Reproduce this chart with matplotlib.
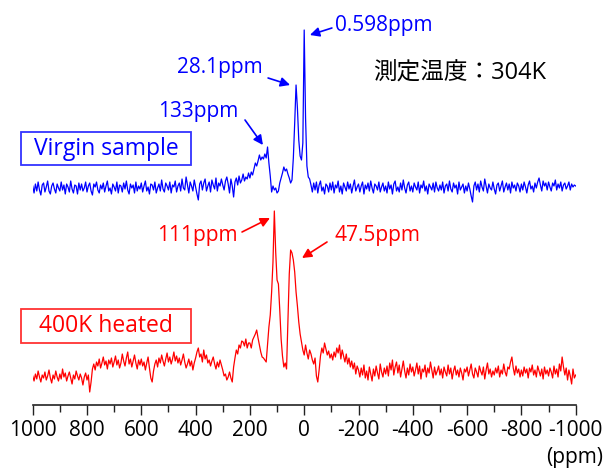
import matplotlib
matplotlib.use('Agg')
import matplotlib.pyplot as plt
from matplotlib.patches import Rectangle
import numpy as np

plt.rcParams['font.family'] = ['Open Sans', 'Noto Sans CJK JP', 'DejaVu Sans']

# chemical shift grid (ppm), 5 ppm steps from 1000 down to -1000
ppm = np.arange(1000, -1001, -5)

# virgin sample spectrum (arbitrary units above its baseline)
virgin = [
    2, -5, 4, -3, 6, -2, -7, 3, 5, -4, 1, 7, -3, -6, 2, 5, -1, -5, 4, 0,
    -3, 6, -2, 3, -6, 4, 1, -4, 7, -1, -5, 3, 2, -6, 5, -2, 4, -3, 0, 6,
    -4, 2, 5, -3, -7, 4, 1, 6, -2, -5, 3, -1, 5, -4, 2, 7, -3, 0, -6, 4,
    1, -3, 6, -5, 3, 2, -4, 5, -1, 7, -2, -6, 4, 0, 3, -5, 6, -3, 2, -1,
    5, -4, 2, 7, -3, 1, -6, 4, 3, -2, 6, -5, 0, 4, -3, 8, -1, -4, 5, 2,
    -2, 6, -5, 3, 1, 7, -4, 2, 5, -3, 9, 0, -2, 11, 3, -5, 6, 2, -3, 8,
    1, -6, -12, 4, 7, -2, 5, 9, -3, 2, 6, -4, 8, 3, -1, 10, -3, 5, 2, 9,
    3, -2, 7, 11, 4, -5, 9, 2, -9, 6, 10, 3, 12, 5, 8, 14, 7, 11, 9, 15,
    10, 16, 13, 19, 25, 22, 27, 33, 28, 31, 29, 34, 30, 41, 25, 12, -4, 2, -2, 0,
    -5, -3, 5, 10, 15, 21, 17, 19, 14, 10, 5, 8, 30, 65, 103, 80, 48, 32, 28, 45,
    158, 70, 22, 11, 9, 3, -4, 5, -2, 6, -5, 3, 7, -3, 1, -6, 4, 2, -4, 5,
    -2, 6, -5, 3, 0, 7, -4, 2, -6, 5, 1, -3, 6, -1, 4, -5, 2, 8, -3, 1,
    4, -4, 2, 6, -6, 3, -1, 5, -3, 7, 0, -5, 4, 2, -2, 6, -4, 1, 5, -3,
    2, -5, 6, -1, 3, -6, 4, 7, -3, 1, -4, 5, -2, 8, 0, -5, 3, 6, -3, 2,
    -4, 5, 1, -2, 6, -5, 3, 0, 7, -3, 2, -6, 4, 1, -2, 5, -4, 6, 0, -3,
    3, -2, 6, -5, 2, 4, -3, 7, -1, -4, 5, 0, 3, -6, 6, -2, 1, 4, -5, 2,
    -3, 5, -1, -8, -14, 2, 6, -2, 4, -4, 7, 1, -3, 9, 2, -5, 4, 0, -2, 6,
    -1, -6, 3, 5, -3, 2, 7, -4, 1, 5, -2, 4, -5, 6, 0, 3, -3, 5, 2, -4,
    4, -2, 6, 1, -5, 3, 7, -1, 2, -4, 5, 0, 6, 10, 3, -3, 7, 2, 5, -2,
    6, 1, -3, 5, 2, 8, -2, 4, 0, 6, -3, 3, 5, -1, 2, 6, -2, 4, 1, 3,
    2,
]

# 400K heated sample spectrum
heated = [
    -4, -9, -2, -7, 1, -5, -10, -3, -6, 0, -8, -4, 2, -6, -11, -3, -7, 1, -5, -9,
    -2, -7, 3, -5, -1, -9, -4, 0, -6, -12, -3, -7, 1, -4, -8, -2, -6, -13, -5, -1,
    -8, -3, -20, -10, 3, 8, 2, 10, 6, 13, 4, 9, 15, 7, 11, 3, 12, 8, 14, 5,
    10, 16, 7, 12, 4, 9, 18, 11, 6, 14, 20, 8, 13, 5, 11, 17, 9, 3, 12, 7,
    13, 6, 10, 2, 9, 15, 4, -6, -10, 1, 8, 12, 5, 14, 9, 17, 11, 6, 13, 19,
    10, 15, 8, 13, 20, 11, 16, 9, 14, 7, 12, 18, 10, 4, 8, 13, 6, 11, 2, 9,
    14, 20, 24, 15, 18, 10, 22, 13, 17, 9, 12, 6, 11, 15, 8, 3, 10, 5, 12, 7,
    2, -4, -2, -8, -5, 0, -6, -10, 5, 14, 22, 18, 27, 24, 31, 30, 26, 33, 24, 29,
    29, 24, 32, 35, 38, 42, 34, 27, 20, 15, 14, 12, 10, 28, 45, 57, 80, 110, 161, 120,
    92, 88, 62, 33, 16, 5, 9, 3, 50, 98, 122, 119, 112, 100, 80, 66, 50, 38, 30, 22,
    17, 27, 19, 13, 22, 18, 12, 8, 14, -4, -10, 2, 16, 24, 19, 29, 23, 17, 21, 14,
    18, 12, 20, 15, 24, 19, 27, 13, 22, 16, 10, 18, 8, 14, 5, 11, 3, 9, -2, 6,
    2, -5, 4, -3, 7, -6, 1, -8, 5, -2, -9, 3, -4, 6, -1, -7, 8, 0, -5, 4,
    -2, 6, -4, 9, 2, 12, -3, 5, 10, -1, 7, -5, 3, 11, 1, -6, 4, -3, 8, 0,
    5, -4, 2, 9, -2, 6, -7, 3, 0, 7, -5, 4, -1, 10, 2, -6, 5, -3, 1, 6,
    -3, 3, -6, 5, 0, -4, 7, -2, 4, -7, 1, 6, -3, 2, -5, 4, -1, -8, 3, 0,
    5, -4, 2, 8, -2, -6, 4, 0, -5, 6, 1, -3, 5, -7, 2, 9, -2, 3, -5, 1,
    -3, 4, -1, 6, -5, 2, -2, 8, 0, -4, 5, 3, 10, 15, 4, -3, 6, -1, 3, -5,
    2, -4, 5, -1, 3, -6, 4, 0, 7, -3, 2, -5, 6, 1, -4, 3, -7, 5, -2, 2,
    -4, 4, 0, -6, 6, -2, 3, -5, 8, 1, 15, 5, -3, 4, -8, 2, -4, -12, 3, -6,
    -3,
]

tick_major = np.arange(1000, -1001, -200)
tick_minor = np.arange(900, -1000, -200)

virgin_offset = 217
heated_offset = 33

W, H = 607, 475
fig = plt.figure(figsize=(6.07, 4.75), dpi=100)
ax = fig.add_axes([32.7 / W, 70 / H, 543 / W, 405 / H])

ax.plot(ppm, np.array(virgin) + virgin_offset, color='#0000ff', lw=0.9)
ax.plot(ppm, np.array(heated) + heated_offset, color='#ff0000', lw=0.9)

ax.set_xlim(1000, -1000)
ax.set_ylim(0, 405)
for s in ['top', 'left', 'right']:
    ax.spines[s].set_visible(False)
ax.spines['bottom'].set_linewidth(1.2)
ax.spines['bottom'].set_color('#222222')
ax.set_yticks([])
ax.set_xticks(tick_major)
ax.set_xticks(tick_minor, minor=True)
ax.set_xticklabels([str(t) for t in tick_major])
ax.tick_params(axis='x', which='major', length=7, width=1, color='#222222',
               labelsize=15, pad=4)
ax.tick_params(axis='x', which='minor', length=5, width=1, color='#222222')

arrow_b = dict(arrowstyle='-|>', mutation_scale=14, lw=1.2, color='#0000ff',
               shrinkA=0, shrinkB=0)
arrow_r = dict(arrowstyle='-|>', mutation_scale=14, lw=1.2, color='#ff0000',
               shrinkA=0, shrinkB=0)

ax.annotate('', xy=(-21, 370), xytext=(-102, 377), arrowprops=arrow_b)
ax.text(-114, 379, '0.598ppm', color='#0000ff', fontsize=15, ha='left', va='center')
ax.annotate('', xy=(52, 320), xytext=(133, 327), arrowprops=arrow_b)
ax.text(152, 338, '28.1ppm', color='#0000ff', fontsize=15, ha='right', va='center')
ax.annotate('', xy=(152, 260), xytext=(218, 285), arrowprops=arrow_b)
ax.text(244, 293, '133ppm', color='#0000ff', fontsize=15, ha='right', va='center')

ax.annotate('', xy=(126, 187), xytext=(229, 173), arrowprops=arrow_r)
ax.text(247, 170, '111ppm', color='#ff0000', fontsize=15, ha='right', va='center')
ax.annotate('', xy=(8, 147), xytext=(-84, 163), arrowprops=arrow_r)
ax.text(-110, 169, '47.5ppm', color='#ff0000', fontsize=15, ha='left', va='center')

ax.text(-254, 331, '測定温度：304K', color='black', fontsize=17, ha='left', va='center')

# labelled boxes
fig.add_artist(Rectangle((21 / W, 1 - 165 / H), 170 / W, 33 / H, transform=fig.transFigure,
                         fill=False, ec='#3333ff', lw=1.3))
fig.text(106 / W, 1 - 149 / H, 'Virgin sample', color='#0000ff', fontsize=16.5,
         ha='center', va='center')
fig.add_artist(Rectangle((21 / W, 1 - 343 / H), 170 / W, 34 / H, transform=fig.transFigure,
                         fill=False, ec='#ff3333', lw=1.3))
fig.text(106 / W, 1 - 326 / H, '400K heated', color='#ff0000', fontsize=16.5,
         ha='center', va='center')

fig.text(603 / W, 1 - 458 / H, '(ppm)', fontsize=15, ha='right', va='center')

fig.savefig('out.png', dpi=100)
